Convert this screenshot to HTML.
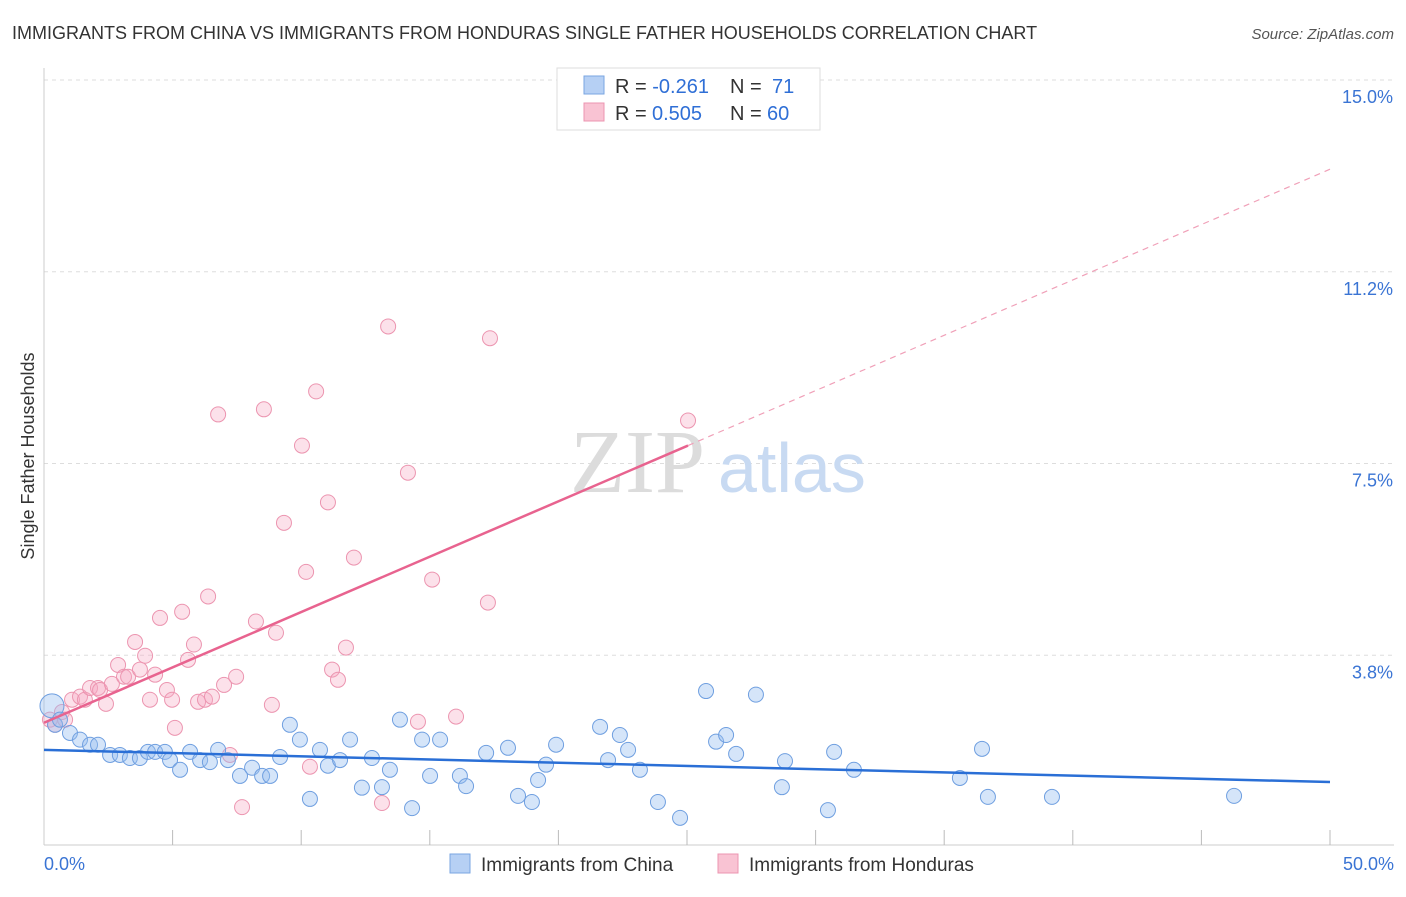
<!DOCTYPE html>
<html><head><meta charset="utf-8"><style>
body{margin:0;background:#fff;font-family:"Liberation Sans",sans-serif;}
</style></head><body>
<svg width="1406" height="892" xmlns="http://www.w3.org/2000/svg" font-family="Liberation Sans, sans-serif">
<text x="12" y="39" font-size="18" fill="#333">IMMIGRANTS FROM CHINA VS IMMIGRANTS FROM HONDURAS SINGLE FATHER HOUSEHOLDS CORRELATION CHART</text>
<text x="1394" y="39" font-size="15" fill="#555" font-style="italic" text-anchor="end">Source: ZipAtlas.com</text>
<g id="grid"></g>
<g id="yt"></g>
<g id="xt"></g>
<text x="570" y="492" font-size="90" fill="#dcdcdc" font-family="Liberation Serif, serif">ZIP</text>
<text x="718" y="492" font-size="70" fill="#c8daf2">atlas</text>
<text transform="translate(34,456) rotate(-90)" font-size="18" fill="#333" text-anchor="middle">Single Father Households</text>
<g id="pts"></g>
<g id="lines"></g>
<g>
<rect x="557" y="68" width="263" height="62" fill="#fff" stroke="#ddd"/>
<rect x="584" y="76" width="20" height="18" fill="#b6d0f4" stroke="#7aa6e2"/>
<rect x="584" y="103" width="20" height="18" fill="#f9c3d3" stroke="#ec95b0"/>
<text x="615" y="93" font-size="20" fill="#333">R = <tspan fill="#2f6fd6">-0.261</tspan><tspan x="730">N = </tspan><tspan fill="#2f6fd6" x="772">71</tspan></text>
<text x="615" y="120" font-size="20" fill="#333">R = <tspan fill="#2f6fd6" x="652">0.505</tspan><tspan x="730">N = </tspan><tspan fill="#2f6fd6" x="767">60</tspan></text>
</g>
<g>
<rect x="450" y="854" width="20" height="19" fill="#b6d0f4" stroke="#7aa6e2"/>
<text x="481" y="871" font-size="19" fill="#333">Immigrants from China</text>
<rect x="718" y="854" width="20" height="19" fill="#f9c3d3" stroke="#ec95b0"/>
<text x="749" y="871" font-size="19" fill="#333">Immigrants from Honduras</text>
</g>
</svg>
<script>
const yTicks=[3.75,7.5,11.25,15];
const yTickLabels=["3.8%","7.5%","11.2%","15.0%"];
const chinaX=[0.31,0.43,0.62,1.01,1.40,1.79,2.10,2.57,2.95,3.34,3.73,4.04,4.32,4.70,4.90,5.29,5.68,6.07,6.45,6.77,7.15,7.62,8.09,8.48,8.79,9.18,9.56,9.95,10.34,10.73,11.04,11.51,11.90,12.36,12.75,13.14,13.45,13.84,14.31,14.70,15.01,15.40,16.17,16.41,17.19,18.04,18.43,18.97,19.21,19.52,19.91,21.62,21.93,22.39,22.71,23.17,23.87,24.73,25.74,26.13,26.52,26.91,27.68,28.69,28.81,30.48,30.72,31.49,35.61,36.47,36.70,39.19,46.27];
const chinaY=[2.76,2.39,2.49,2.23,2.10,2.00,2.00,1.80,1.80,1.74,1.74,1.86,1.86,1.86,1.70,1.51,1.86,1.70,1.66,1.90,1.70,1.39,1.55,1.39,1.39,1.76,2.39,2.10,0.94,1.90,1.59,1.70,2.10,1.16,1.74,1.17,1.51,2.49,0.76,2.10,1.39,2.10,1.39,1.19,1.84,1.94,1.00,0.88,1.31,1.61,2.00,2.35,1.70,2.19,1.90,1.51,0.88,0.57,3.05,2.06,2.19,1.82,2.98,1.17,1.68,0.72,1.86,1.51,1.35,1.92,0.98,0.98,1.00];
const hondX=[0.23,0.43,0.70,0.82,1.09,1.40,1.59,1.79,2.10,2.18,2.41,2.64,2.88,3.11,3.27,3.54,3.73,3.93,4.12,4.32,4.51,4.78,4.98,5.09,5.37,5.60,5.83,5.99,6.26,6.38,6.53,6.77,7.00,7.23,7.47,7.70,8.24,8.55,8.86,9.02,9.33,10.03,10.19,10.34,10.58,11.04,11.20,11.43,11.74,12.05,13.14,13.38,14.15,14.54,15.09,16.02,17.26,17.34,25.04];
const hondY=[2.49,2.39,2.64,2.49,2.88,2.94,2.88,3.11,3.11,3.07,2.80,3.19,3.56,3.33,3.33,4.01,3.47,3.74,2.88,3.37,4.48,3.07,2.88,2.33,4.60,3.66,3.96,2.84,2.88,4.90,2.94,8.46,3.17,1.80,3.33,0.78,4.41,8.56,2.78,4.19,6.34,7.85,5.38,1.57,8.91,6.74,3.47,3.27,3.90,5.66,0.86,10.18,7.32,2.45,5.23,2.55,4.78,9.95,8.34];
const chinaTrend=[1.90,1.27];
const hondTrend=[2.43,0.2165];
const hondSolidEnd=25.04;
const NS="http://www.w3.org/2000/svg";
const sx=v=>44+v/50*1286, sy=v=>847-v/15*767;
function mk(t,a,p){const e=document.createElementNS(NS,t);for(const k in a)e.setAttribute(k,a[k]);p.appendChild(e);return e;}
const grid=document.getElementById('grid'),yt=document.getElementById('yt'),xt=document.getElementById('xt');
yTicks.forEach((v,i)=>{
 const l=mk('line',{x1:44,x2:1394,y1:sy(v),y2:sy(v),stroke:'#ddd','stroke-dasharray':'4,4'},grid);
 
 
 const t=mk('text',{x:1393,y:sy(v)+23,'font-size':18,fill:'#3a74d4','text-anchor':'end'},yt);
 t.textContent=yTickLabels[i];
 
 
});
mk('line',{x1:44,x2:44,y1:68,y2:845,stroke:'#ccc'},grid);
mk('line',{x1:44,x2:1394,y1:845,y2:845,stroke:'#ccc'},grid);
for(let i=1;i<=10;i++){const x=sx(i*5);const l=mk('line',{x1:x,x2:x,y1:830,y2:845,stroke:'#bbb'},xt);
 
 }
const x0=mk('text',{x:44,y:870,'font-size':18,fill:'#3a74d4'},xt);x0.textContent='0.0%';


const x1=mk('text',{x:1394,y:870,'font-size':18,fill:'#3a74d4','text-anchor':'end'},xt);x1.textContent='50.0%';


const pts=document.getElementById('pts');
hondX.forEach((x,i)=>{const c=mk('circle',{cx:sx(x),cy:sy(hondY[i]),r:7.5,fill:'rgba(245,170,195,0.35)',stroke:'#ec95b0','stroke-width':1},pts);
 
 });
chinaX.forEach((x,i)=>{const c=mk('circle',{cx:sx(x),cy:sy(chinaY[i]),r:i==0?12:7.5,fill:'rgba(150,190,240,0.4)',stroke:'#6f9fe0','stroke-width':1},pts);
 
 });
const lines=document.getElementById('lines');
const lc=mk('line',{x1:sx(0),y1:sy(chinaTrend[0]),x2:sx(50),y2:sy(chinaTrend[1]),stroke:'#2a6fd6','stroke-width':2.5},lines);


const hy=x=>hondTrend[0]+hondTrend[1]*x;
const lh=mk('line',{x1:sx(0),y1:sy(hy(0)),x2:sx(hondSolidEnd),y2:sy(hy(hondSolidEnd)),stroke:'#e8638f','stroke-width':2.5},lines);


const ld=mk('line',{x1:sx(hondSolidEnd),y1:sy(hy(hondSolidEnd)),x2:sx(50),y2:sy(hy(50)),stroke:'#f0a0b8','stroke-width':1.2,'stroke-dasharray':'6,5'},lines);


</script>
</body></html>
